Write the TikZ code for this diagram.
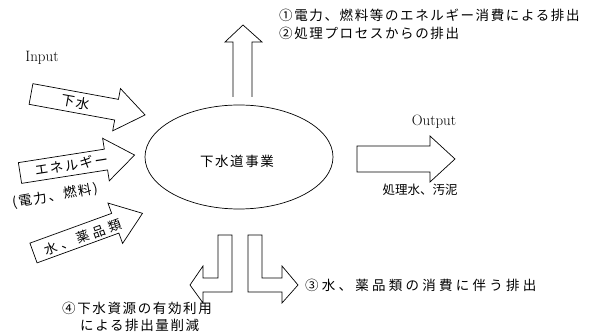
\documentclass[tikz,border=0pt]{standalone}
\usepackage{fontspec}
\newfontfamily\jp{Noto Sans CJK JP}
\newcommand\inarrowpath{(0,-10.5) -- (87,-10.5) -- (87,-21.5) -- (116,0) -- (87,21.5) -- (87,10.5) -- (0,10.5) -- cycle}
\tikzset{
  outl/.style={draw=black, line width=0.7pt, line join=miter, fill=white},
  jt/.style={font=\jp\fontsize{13.5}{15}\selectfont\addfontfeatures{LetterSpace=12}, inner sep=0pt},
  jtr/.style={font=\jp\fontsize{13}{15}\selectfont\addfontfeatures{LetterSpace=30}, inner sep=0pt},
  jtw/.style={font=\jp\fontsize{13.5}{15}\selectfont\addfontfeatures{LetterSpace=24}, inner sep=0pt},
  jtn/.style={font=\jp\fontsize{12.5}{14}\selectfont, inner sep=0pt},
  lt/.style={font=\fontsize{15}{17}\selectfont, inner sep=0pt}
}
\begin{document}
\begin{tikzpicture}[x=1pt,y=-1pt]
\useasboundingbox (0,0) rectangle (600,336);
\fill[white] (0,0) rectangle (600,336);

% central ellipse
\draw[line width=0.7pt] (239,157) ellipse [x radius=94, y radius=52];
\node[jt] (core) at (237,161) {下水道事業};

% input arrows
\node[lt] (inlabel) at (42,58) {Input};
\begin{scope}[shift={(31,94)}, rotate=-10.4]
  \path[outl] \inarrowpath;
  \node[jt, transform shape] (in1) at (45,0) {下水};
\end{scope}
\begin{scope}[shift={(20,173)}, rotate=8.9]
  \path[outl] \inarrowpath;
  \node[jt, transform shape] (in2) at (52,0) {エネルギー};
\end{scope}
\node[jt, rotate=10] (in2sub) at (55,196) {(電力、燃料)};
\begin{scope}[shift={(33.5,253)}, rotate=20]
  \path[outl] \inarrowpath;
  \node[jtr, transform shape] (in3) at (52,2) {水、薬品類};
\end{scope}

% upward arrow
\path[outl] (233,97) -- (233,42) -- (225,42) -- (243,25) -- (262,42) -- (252,42) -- (252,97);
\node[jt, anchor=west] (up1) at (279,15) {①電力、燃料等のエネルギー消費による排出};
\node[jt, anchor=west] (up2) at (279,33) {②処理プロセスからの排出};

% output arrow
\path[outl] (357,146) -- (430,146) -- (430,136) -- (455,159) -- (430,182) -- (430,172) -- (357,172) -- cycle;
\node[lt] (outlabel) at (434,122) {Output};
\node[jtn] (outtext) at (420,190) {処理水、汚泥};

% bottom L arrows
\path[outl] (232,235) -- (218,235) -- (218,278) -- (203,278) -- (203,266) -- (190,285) -- (203,303) -- (203,292) -- (232,292) -- cycle;
\path[outl] (248,235) -- (262,235) -- (262,278) -- (282,278) -- (282,266) -- (298,285) -- (282,303) -- (282,292) -- (248,292) -- cycle;
\node[jtw, anchor=west] (b3) at (305,285) {③水、薬品類の消費に伴う排出};
\node[jt, anchor=west] (b4a) at (62,308) {④下水資源の有効利用};
\node[jt, anchor=west] (b4b) at (80,325) {による排出量削減};
\end{tikzpicture}
\end{document}
